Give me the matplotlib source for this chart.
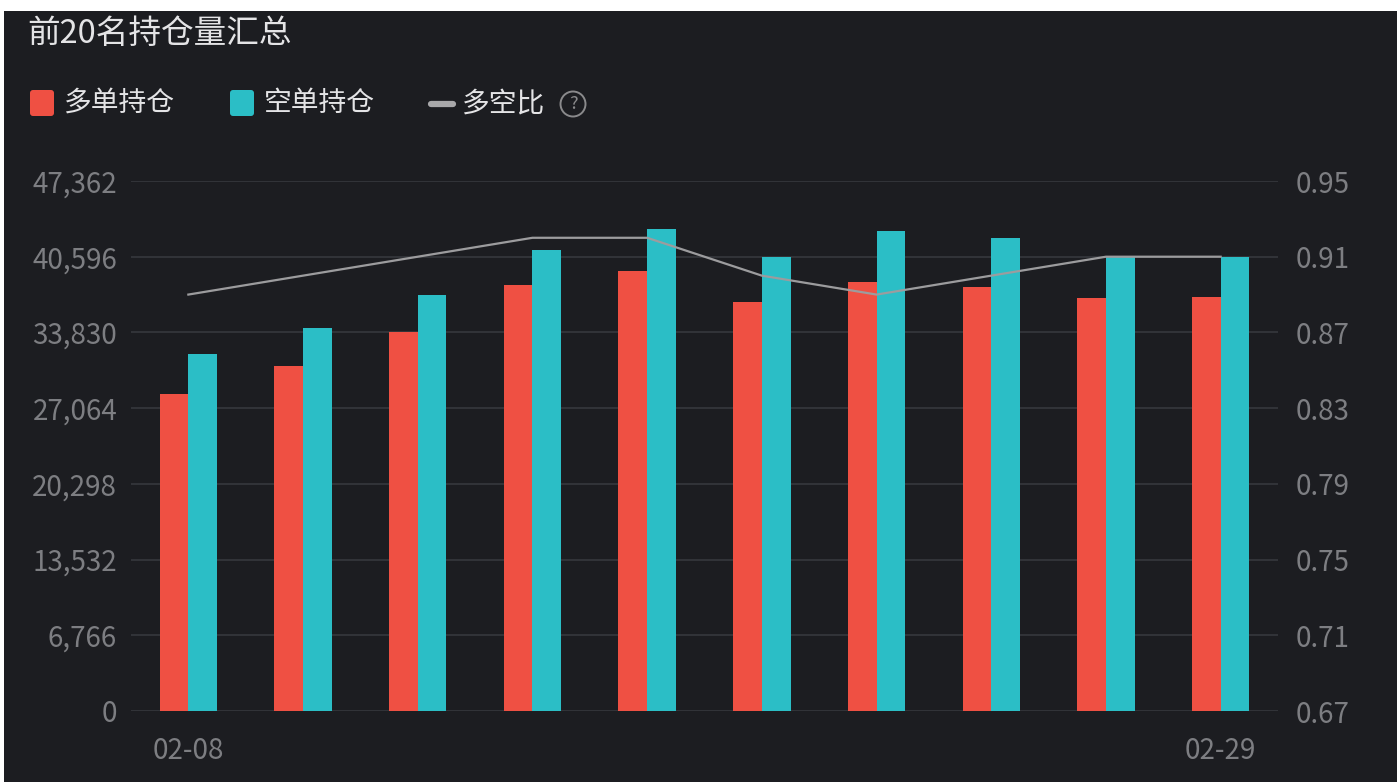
import matplotlib
matplotlib.use('Agg')
import matplotlib.pyplot as plt
from matplotlib.patches import FancyBboxPatch, Rectangle, Circle

# ─── Data ────────────────────────────────────────────────────────────────────
dates = ['02-08', '02-19', '02-20', '02-21', '02-22',
         '02-23', '02-26', '02-27', '02-28', '02-29']
long_pos = [28330, 30860, 33840, 38040, 39350, 36550, 38310, 37860, 36880, 37020]
short_pos = [31900, 34250, 37200, 41200, 43070, 40600, 42870, 42240, 40600, 40600]
ratio = [0.89, 0.90, 0.91, 0.92, 0.92, 0.90, 0.89, 0.90, 0.91, 0.91]

left_ticks = [0, 6766, 13532, 20298, 27064, 33830, 40596, 47362]
right_ticks = [0.67, 0.71, 0.75, 0.79, 0.83, 0.87, 0.91, 0.95]

# ─── Palette ─────────────────────────────────────────────────────────────────
BG = '#1c1d21'
RED = '#ef5043'
TEAL = '#2bbec6'
LINE = '#9c9c9e'
GRID = '#34363b'
TICK = '#7d7e82'
TITLE = '#e4e4e6'
FONT = ['Noto Sans CJK SC', 'DejaVu Sans']
plt.rcParams['font.family'] = FONT

W, H = 1397, 782
fig = plt.figure(figsize=(W / 100, H / 100), dpi=100, facecolor='white')

# background / header layer in pixel coords
bg = fig.add_axes([0, 0, 1, 1], zorder=0)
bg.set_xlim(0, W)
bg.set_ylim(H, 0)
bg.axis('off')
bg.add_patch(Rectangle((4, 11), W - 4, H - 11, color=BG, lw=0))

bg.text(27, 34, '前20名持仓量汇总', color=TITLE, fontsize=23.5,
        ha='left', va='center')

# legend
bg.add_patch(FancyBboxPatch((30, 90), 24, 26, boxstyle='round,pad=0,rounding_size=3',
                            fc=RED, ec='none'))
bg.text(64, 103, '多单持仓', color=TITLE, fontsize=20, ha='left', va='center')
bg.add_patch(FancyBboxPatch((230, 90), 24, 26, boxstyle='round,pad=0,rounding_size=3',
                            fc=TEAL, ec='none'))
bg.text(264, 103, '空单持仓', color=TITLE, fontsize=20, ha='left', va='center')
bg.plot([431, 453], [104, 104], color='#a8a8aa', lw=4.5, solid_capstyle='round')
bg.text(462, 103, '多空比', color=TITLE, fontsize=20, ha='left', va='center')
bg.add_patch(Circle((573, 104), 12.5, fill=False, ec='#8a8a8c', lw=1.4))
bg.text(573, 104, '?', color='#8a8a8c', fontsize=13, ha='center', va='center')

# ─── Main chart ──────────────────────────────────────────────────────────────
ax = fig.add_axes([131 / W, 71 / H, (1278 - 131) / W, (711 - 181) / H], zorder=1)
ax.set_facecolor('none')
x = list(range(len(dates)))
bw = 0.25
ax.bar([i - bw / 2 for i in x], long_pos, width=bw, color=RED, zorder=3)
ax.bar([i + bw / 2 for i in x], short_pos, width=bw, color=TEAL, zorder=3)

ax.set_xlim(-0.5, len(dates) - 0.5)
ax.set_ylim(left_ticks[0], left_ticks[-1])
ax.set_yticks(left_ticks)
ax.set_yticklabels([f'{v:,}' for v in left_ticks])
ax.set_xticks([0, len(dates) - 1])
ax.set_xticklabels([dates[0], dates[-1]])
for yv in left_ticks:
    ax.axhline(yv, color=GRID, lw=1.3, zorder=1)
for s in ax.spines.values():
    s.set_visible(False)
ax.tick_params(axis='both', length=0, colors=TICK, labelsize=20)
ax.tick_params(axis='y', pad=10)
ax.tick_params(axis='x', pad=18)

ax2 = ax.twinx()
ax2.set_zorder(2)
ax2.set_facecolor('none')
ax2.plot(x, ratio, color=LINE, lw=1.6, zorder=4)
ax2.set_ylim(right_ticks[0], right_ticks[-1])
ax2.set_yticks(right_ticks)
ax2.set_yticklabels([f'{v:.2f}' for v in right_ticks])
for s in ax2.spines.values():
    s.set_visible(False)
ax2.tick_params(axis='y', length=0, colors=TICK, labelsize=20, pad=13)

fig.savefig('out.png', dpi=100, facecolor='white')
